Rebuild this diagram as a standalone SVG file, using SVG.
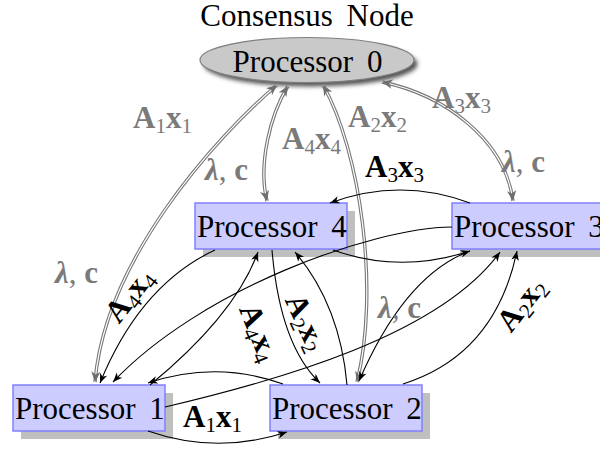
<svg xmlns="http://www.w3.org/2000/svg" width="600" height="449" viewBox="0 0 600 449" font-family="Liberation Serif, DejaVu Serif, serif">
<style>
.t{font-size:31px;fill:#000;word-spacing:6px}
.box{fill:#ccccff;stroke:#8080ff;stroke-width:1.5}
.sh{fill:#bfbfbf}
.m{font-weight:bold;font-size:31px}
.s{font-weight:normal;font-size:21px}
.g{fill:#7a7a7a}
.k{fill:#000}
.bl{fill:none;stroke:#000;stroke-width:1.1;marker-end:url(#ab)}
.go{fill:none;stroke:#777;stroke-width:3.4}
.gi{fill:none;stroke:#fff;stroke-width:1.2}
.gm{fill:none;stroke:none;marker-start:url(#ag);marker-end:url(#ag)}
</style>
<defs>
<marker id="ab" viewBox="-10 -5 11 10" refX="0" refY="0" markerWidth="11" markerHeight="10" markerUnits="userSpaceOnUse" orient="auto-start-reverse"><path d="M0,0 L-9.5,-3.8 L-6.8,0 L-9.5,3.8 z" fill="#000"/></marker>
<marker id="ag" viewBox="-11 -6 12 12" refX="0" refY="0" markerWidth="12" markerHeight="12" markerUnits="userSpaceOnUse" orient="auto-start-reverse"><path d="M0,0 L-10.5,-4.6 L-7.5,0 L-10.5,4.6 z" fill="#6e6e6e"/></marker>
<filter id="blur" x="-20%" y="-40%" width="140%" height="180%"><feGaussianBlur stdDeviation="2.2"/></filter>
</defs>

<g id="p0">
<text class="t" x="307" y="26" text-anchor="middle">Consensus Node</text>
<ellipse cx="310.5" cy="64" rx="107" ry="22.5" fill="#555" filter="url(#blur)"/>
<ellipse cx="307" cy="60" rx="107" ry="22.5" fill="#c9c9c9" stroke="#808080" stroke-width="1.2"/>
<text class="t" x="307.5" y="72" text-anchor="middle">Processor 0</text>
</g>
<g id="p4">
<rect class="sh" x="203" y="211" width="152" height="46"/>
<rect class="box" x="195" y="203" width="152" height="46"/>
<text class="t" x="197" y="237">Processor 4</text>
</g>
<g id="p3">
<rect class="sh" x="460" y="211" width="152" height="46"/>
<rect class="box" x="452" y="203" width="152" height="46"/>
<text class="t" x="454" y="237">Processor 3</text>
</g>
<g id="p1">
<rect class="sh" x="21" y="393" width="152" height="46"/>
<rect class="box" x="13" y="385" width="152" height="46"/>
<text class="t" x="15" y="419">Processor 1</text>
</g>
<g id="p2">
<rect class="sh" x="278" y="393" width="152" height="46"/>
<rect class="box" x="270" y="385" width="152" height="46"/>
<text class="t" x="272" y="419">Processor 2</text>
</g>

<g id="connectors">
<path class="go" d="M277,85 C215,138 105,260 95,382"/>
<path class="gi" d="M277,85 C215,138 105,260 95,382"/>
<path class="gm" d="M277,85 C215,138 105,260 95,382"/>
<path class="go" d="M288,86 C270,115 258,165 267,201"/>
<path class="gi" d="M288,86 C270,115 258,165 267,201"/>
<path class="gm" d="M288,86 C270,115 258,165 267,201"/>
<path class="go" d="M323,85 C360,150 380,290 357,382"/>
<path class="gi" d="M323,85 C360,150 380,290 357,382"/>
<path class="gm" d="M323,85 C360,150 380,290 357,382"/>
<path class="go" d="M382,82 C445,95 505,140 513,201"/>
<path class="gi" d="M382,82 C445,95 505,140 513,201"/>
<path class="gm" d="M382,82 C445,95 505,140 513,201"/>

<path class="bl" d="M470,203 Q400,177 330,203"/>
<path class="bl" d="M333,250 Q400,274 470,251"/>
<path class="bl" d="M452,227 C370,228 200,290 113,382"/>
<path class="bl" d="M165,407 C280,380 440,335 500,252"/>
<path class="bl" d="M403,384 Q495,355 517,251"/>
<path class="bl" d="M470,251 Q405,275 359,381"/>
<path class="bl" d="M215,250 Q140,285 100,383"/>
<path class="bl" d="M150,385 Q235,315 258,252"/>
<path class="bl" d="M272,250 Q280,345 320,383"/>
<path class="bl" d="M347,385 Q340,305 295,252"/>
<path class="bl" d="M283,384 Q216,360 148,383"/>
<path class="bl" d="M148,431 Q217,455 287,432"/>
</g>

<g id="labels">
<text class="m g" x="133" y="128">A<tspan class="s" dy="5">1</tspan><tspan dy="-5">x</tspan><tspan class="s" dy="5">1</tspan></text>
<text class="m g" x="282" y="149">A<tspan class="s" dy="5">4</tspan><tspan dy="-5">x</tspan><tspan class="s" dy="5">4</tspan></text>
<text class="m g" x="348" y="127">A<tspan class="s" dy="5">2</tspan><tspan dy="-5">x</tspan><tspan class="s" dy="5">2</tspan></text>
<text class="m g" x="432" y="108">A<tspan class="s" dy="5">3</tspan><tspan dy="-5">x</tspan><tspan class="s" dy="5">3</tspan></text>
<text class="m g" x="205" y="180"><tspan font-style="italic">λ</tspan><tspan font-weight="normal">, </tspan>c</text>
<text class="m g" x="502" y="172"><tspan font-style="italic">λ</tspan><tspan font-weight="normal">, </tspan>c</text>
<text class="m g" x="55" y="283"><tspan font-style="italic">λ</tspan><tspan font-weight="normal">, </tspan>c</text>
<text class="m g" x="378" y="318"><tspan font-style="italic">λ</tspan><tspan font-weight="normal">, </tspan>c</text>

<text class="m k" x="365" y="177">A<tspan class="s" dy="5">3</tspan><tspan dy="-5">x</tspan><tspan class="s" dy="5">3</tspan></text>
<text class="m k" x="183" y="427">A<tspan class="s" dy="5">1</tspan><tspan dy="-5">x</tspan><tspan class="s" dy="5">1</tspan></text>
<text class="m k" text-anchor="middle" transform="translate(130,296) rotate(-52)" x="0" y="9">A<tspan class="s" dy="5">4</tspan><tspan dy="-5">x</tspan><tspan class="s" dy="5">4</tspan></text>
<text class="m k" text-anchor="middle" transform="translate(258,333) rotate(68)" x="0" y="9">A<tspan class="s" dy="5">4</tspan><tspan dy="-5">x</tspan><tspan class="s" dy="5">4</tspan></text>
<text class="m k" text-anchor="middle" transform="translate(305,323) rotate(65)" x="0" y="9">A<tspan class="s" dy="5">2</tspan><tspan dy="-5">x</tspan><tspan class="s" dy="5">2</tspan></text>
<text class="m k" text-anchor="middle" transform="translate(522,305) rotate(-52)" x="0" y="9">A<tspan class="s" dy="5">2</tspan><tspan dy="-5">x</tspan><tspan class="s" dy="5">2</tspan></text>
</g>
</svg>
